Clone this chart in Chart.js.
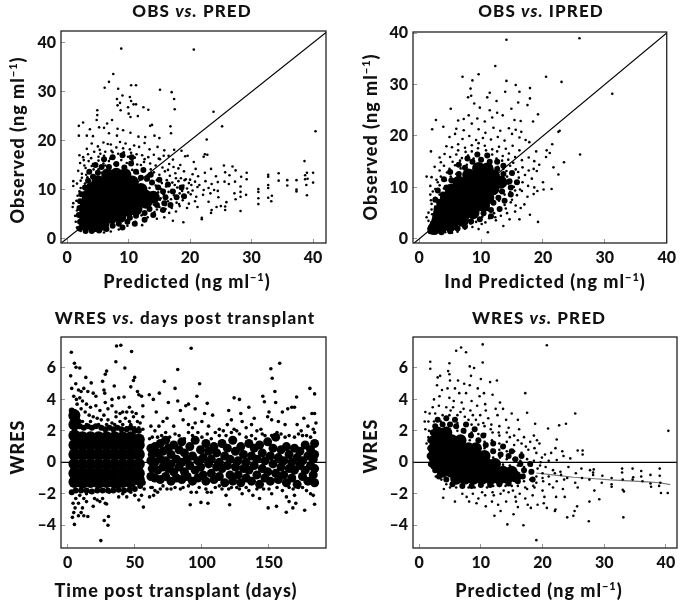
<!DOCTYPE html>
<html>
<head>
<meta charset="utf-8">
<title>Diagnostic plots</title>
<script src="https://cdn.jsdelivr.net/npm/chart.js@4"></script>
<style>
  html, body { margin: 0; background: #fff; }
  #page { position: relative; width: 685px; height: 601px; overflow: hidden; font-family: Lato, "Open Sans", sans-serif; font-weight: 900; color: #111; }
  canvas { position: absolute; }
  .label { position: absolute; white-space: nowrap; transform: translate(-50%, -50%); font-size: 18px; letter-spacing: 1px; }
  .title { font-size: 17px; letter-spacing: 1.1px; }
  .rot { transform: translate(-50%, -50%) rotate(-90deg); }
  sup { font-size: 11px; line-height: 0; }
</style>
</head>
<body>
<div id="page">
  <canvas id="c1" style="left:0;top:0"></canvas>
  <canvas id="c2" style="left:342px;top:0"></canvas>
  <canvas id="c3" style="left:0;top:300px"></canvas>
  <canvas id="c4" style="left:342px;top:300px"></canvas>

  <div class="label title" style="left:192px;top:10px">OBS <i>vs.</i> PRED</div>
  <div class="label title" style="left:541px;top:10px">OBS <i>vs.</i> IPRED</div>
  <div class="label title" style="left:185px;top:317px">WRES <i>vs.</i> days post transplant</div>
  <div class="label title" style="left:539px;top:317px">WRES <i>vs.</i> PRED</div>

  <div class="label" style="left:187px;top:281px">Predicted (ng ml<sup>&minus;1</sup>)</div>
  <div class="label" style="left:545px;top:281px">Ind Predicted (ng ml<sup>&minus;1</sup>)</div>
  <div class="label" style="left:176px;top:590px">Time post transplant (days)</div>
  <div class="label" style="left:539px;top:590px">Predicted (ng ml<sup>&minus;1</sup>)</div>

  <div class="label rot" style="left:17px;top:140px">Observed (ng ml<sup>&minus;1</sup>)</div>
  <div class="label rot" style="left:28px;top:137px;margin-left:342px">Observed (ng ml<sup>&minus;1</sup>)</div>
  <div class="label rot" style="left:17px;top:447px">WRES</div>
  <div class="label rot" style="left:370px;top:446px">WRES</div>
</div>

<script>
const concTicks = [0, 10, 20, 30, 40];
const timeTicks = [0, 50, 100, 150];
const wresTicks = [-4, -2, 0, 2, 4, 6];

// reference lines
const unityLine1 = [[-1, -1], [42.4, 42.4]];
const unityLine2 = [[-1, -1], [40.2, 40.2]];
const zeroLineTime = [[-5, 0], [193, 0]];
const zeroLinePred = [[-1, 0], [42, 0]];
const wresTrend = [[19, -0.68], [22, -0.82], [25, -0.95], [28, -1.03], [31, -1.12], [34, -1.18], [37, -1.25], [39, -1.3], [40.7, -1.42]];

// OBS vs PRED : solid middle of the cloud
const obsPredCore = [
  [3, 2.8],[4.4, 2.6],[5.8, 2.9],[3, 4.2],[4.4, 4.2],[5.8, 4.2],[7.2, 4.3],[8.6, 4.5],
  [3, 5.7],[4.4, 5.7],[5.8, 5.7],[7.2, 5.7],[8.6, 5.7],[10, 5.8],[11.2, 6],
  [3.1, 7.2],[4.4, 7.2],[5.8, 7.2],[7.2, 7.2],[8.6, 7.2],[10, 7.2],[11.4, 7.2],[12.8, 7.4],
  [3.4, 8.7],[4.6, 8.7],[5.8, 8.7],[7.2, 8.7],[8.6, 8.7],[10, 8.7],[11.4, 8.7],[12.8, 8.6],[14, 8.4],
  [4, 10.2],[5.2, 10.2],[6.6, 10.2],[8, 10.2],[9.4, 10.2],[10.8, 10.2],[12, 10],
  [5, 11.6],[6.4, 11.7],[7.8, 11.7],[9.2, 11.7],[10.6, 11.5],
  [6.6, 13],[8, 13.1],[9.4, 13]
];
// edge of the cloud, still crowded but not solid
const obsPredEdge = [
  [2, 2],[2.1, 3.4],[1.9, 4.8],[2, 6.2],[2.1, 7.6],[2.3, 9],[2.9, 10.4],[3.4, 11.8],[4.2, 12.6],[5, 13.4],
  [5.6, 14.6],[6.8, 14.6],[8, 15.2],[9.3, 14.5],[10.4, 15.3],[11.2, 13.6],[12, 12.4],[13, 12.2],[13.8, 11.4],[14.8, 10.4],
  [15.6, 9.6],[16, 8.4],[15.8, 7.2],[14.6, 6.8],[13.4, 6],[12.6, 5.2],[11.2, 4.6],[10.2, 4.2],[9.8, 3.4],[8.4, 3],
  [7.4, 2.6],[6.4, 1.9],[5.2, 1.6],[4, 1.5],[3, 1.5],[3.6, 13.6],[4.6, 15],[6, 16.2],[7.4, 16.6],[9, 17],
  [10.5, 16.6],[12.4, 14],[13.6, 13],[15, 12],[16.4, 11],[17.2, 9.6],[17.8, 8.4],[16.8, 6.8],[15.6, 5.8],[14, 4.8],
  [12.6, 3.8],[11, 3],[9, 2.2],[18.6, 10.4],[19, 8.6]
];
// OBS vs PRED : scattered readings
const obsPredDots = [
  [8.8, 38.8],[20.6, 38.6],[7.5, 33.6],[6.8, 32],[6.1, 30.8],[10.4, 31.3],[11.2, 31.3],[15.1, 30.4],[17, 29.9],[17.4, 28.5],
  [17.5, 26.4],[8.3, 30.6],[9, 29.2],[10.2, 28.9],[8.1, 28.5],[8.6, 27.7],[8.2, 27.2],[8.7, 26.2],[10.4, 28.1],[10.8, 27.4],
  [11.2, 27.4],[9.9, 26.8],[10, 25.5],[11.5, 25],[10.3, 24.8],[12.4, 26.8],[13.2, 26.3],[23.8, 25.9],[25.2, 22.9],[40.4, 21.9],
  [22.7, 20.2],[4.9, 26.2],[4.9, 25.2],[4.8, 24.2],[7.3, 24.2],[2.6, 23.7],[1.9, 23],[1.9, 21],[3.7, 22.3],[6.5, 23.5],
  [16.8, 22.9],[16.9, 21.5],[13.8, 23.2],[13.5, 23],[6, 22.6],[5.2, 22.7],[8.2, 22.4],[9.1, 22.1],[3.2, 21],[4.2, 20.9],
  [6.8, 21.5],[8.1, 21],[10.3, 21.6],[11.6, 20.8],[12.7, 20.7],[14.2, 21],[15, 20.5],[2, 17],[2.6, 16.6],[3.2, 18.3],
  [4, 19.4],[5, 18.8],[5.9, 19.6],[6.6, 19.3],[7.1, 19.2],[8.6, 19.7],[9.5, 19.4],[10.9, 19],[11.7, 18.7],[12.6, 19.5],
  [13.4, 18.2],[14.7, 18.7],[15.8, 18],[17.4, 18.1],[18.6, 17.9],[19.2, 16.8],[19.6, 16.9],[3.4, 17.2],[4.4, 17.7],[5.4, 17.3],
  [6.2, 17.7],[7.4, 17.6],[8.3, 17.3],[9.2, 17.6],[10.4, 17.5],[11.3, 17.2],[12.2, 17],[13.2, 16.6],[14.1, 17.1],[15.1, 16.2],
  [16.5, 16.9],[22.4, 17.2],[22.8, 17.1],[22.2, 16.7],[2.1, 15.4],[2.8, 14.9],[3.5, 15.8],[4.2, 15.2],[5.1, 15.9],[5.9, 15.3],
  [6.8, 15.8],[7.7, 15.2],[8.8, 16],[9.7, 15.4],[10.6, 15.8],[11.4, 15.1],[12.5, 15.6],[13.5, 15.3],[14.4, 14.9],[15.5, 14.5],
  [16.6, 15.2],[17.3, 14.6],[18.4, 15],[20.6, 15.6],[20.9, 14.2],[25.5, 14.9],[26.9, 14.7],[1.8, 13.8],[2.4, 13.2],[3.1, 13],
  [3.8, 13.6],[4.4, 12.8],[5.1, 14.1],[5.6, 13.4],[10.6, 14],[11.5, 13.3],[12.4, 14.1],[13.2, 12.9],[14.1, 13.5],[15, 13],
  [15.9, 13.7],[16.7, 12.8],[17.6, 13.3],[18.5, 12.3],[19.3, 12.1],[20.4, 13.1],[21.3, 12.7],[22.4, 13.4],[23.4, 14.2],[24.2, 12.7],
  [25.7, 13.5],[26.4, 12.9],[27.4, 13.9],[28.3, 12.6],[1, 11.7],[1, 10.7],[1.6, 11.2],[2.2, 11.8],[2.9, 11.2],[3.5, 11.8],
  [12.8, 11.9],[13.8, 11.6],[14.6, 11.9],[15.4, 11.3],[16.2, 11.9],[17.1, 11.4],[18.1, 11.7],[19.1, 11.9],[19.8, 11.3],[20.8, 11.6],
  [21.5, 10.9],[22.5, 11.7],[23.5, 11.1],[24.5, 11.5],[25.6, 11.6],[26.3, 11.1],[27.3, 11.6],[13.4, 10.3],[14.4, 10.8],[15.3, 10.1],
  [16.1, 10.6],[17, 9.9],[17.9, 10.4],[18.7, 9.7],[19.5, 10.2],[20.4, 9.8],[21.2, 10.5],[22.2, 9.9],[23, 10.3],[23.9, 9.9],
  [24.5, 9.7],[14.8, 9.4],[15.7, 9],[16.5, 9.5],[17.4, 8.8],[18.3, 9.2],[19.2, 8.4],[20.1, 9],[21, 8.5],[22.1, 8.9],
  [23.3, 9.2],[24.6, 8.4],[15.1, 7.9],[16, 7.5],[16.9, 8],[17.8, 7.3],[18.8, 7.8],[19.8, 7.1],[20.8, 7.6],[23, 7.5],
  [14.1, 6.9],[15, 6.4],[16, 6.8],[17, 6.2],[18.3, 6.6],[19.5, 6.2],[21.2, 6.4],[24.3, 6.4],[13.2, 5.8],[14.2, 5.4],
  [15.3, 5.7],[16.6, 5.2],[17.7, 5.5],[12.1, 4.7],[13.1, 4.3],[14.6, 4],[15.8, 4.3],[17.2, 3.6],[18.9, 3.3],[11.1, 3.4],
  [12.2, 2.7],[9.8, 2.6],[8.4, 1.8],[7.1, 1.4],[6, 1.2],[5, 1.4],[2.2, 1.5],[2.6, 2],[1.6, 2.2],[1.4, 3.4],
  [1.3, 4.6],[0.9, 6.4],[1, 7.2],[1.6, 5.7],[1.5, 7.7],[1.7, 8.7],[2, 9.6],[2.2, 10.3],[21.9, 3.9],[21.9, 4.2],
  [23.4, 5.2],[23.5, 5.8],[25.7, 5.8],[25.7, 6.5],[25.9, 7.4],[25, 6.6],[28.2, 5.6],[27.4, 8],[28.2, 8.5],[27.2, 9.2],
  [28.2, 9.5],[28.2, 10.6],[29.1, 8.9],[29.2, 12.1],[29.2, 13.4],[31.1, 7],[31.1, 8.2],[31.1, 9.5],[31.1, 10.1],[32.7, 8.3],
  [32.7, 10.3],[32.7, 10.9],[32.7, 12.6],[32.7, 13],[33.2, 7.6],[33.3, 8.7],[34.4, 11.8],[34.4, 13.3],[35.8, 10.8],[35.8, 11.9],
  [37.3, 9.6],[37.3, 10],[37.3, 11.9],[38.6, 15.8],[38.7, 12.9],[38.7, 12.1],[39.1, 12.2],[39, 8.8],[38.9, 10.9],[39, 13.4],
  [40, 13.4],[40, 11.4],[3, 14.4],[4.3, 14.1],[6.2, 14.9],[7.2, 17.9],[9.1, 18.4],[5.3, 18.1],[8, 18.6],[10.2, 18.2],
  [11, 16.5],[12.6, 16.2],[13.6, 14.1],[14.9, 16.3],[15.7, 16.9],[17.2, 16.1],[18.1, 14.3],[19, 13.7],[20, 12],[17.7, 12.3],
  [16.4, 14],[18.9, 10.8],[20.2, 10.9],[19.7, 9.4],[17.5, 10.9],[18.2, 7],[16.4, 7.6],[15.2, 8.2],[14.6, 5.9],[16, 6],
  [2.4, 12.4],[3.3, 12.5],[4, 14.8],[7, 16.3],[9.9, 16.7],[12, 15],[5.1, 16.7],[3.9, 16.4],[2.7, 16],[6, 16.9]
];

// OBS vs IPRED
const obsIpredCore = [
  [2.4, 2],[3.6, 2.4],[5, 2.6],[3, 3.5],[4.3, 3.6],[5.7, 3.6],[7, 3.6],
  [3.3, 5],[4.6, 5],[6, 5],[7.4, 5],[8.7, 5.1],[3.8, 6.5],[5.1, 6.5],[6.5, 6.5],[7.9, 6.5],[9.3, 6.5],[10.4, 6.5],
  [4.4, 8],[5.7, 8],[7.1, 8],[8.5, 8],[9.9, 8],[11.1, 8],[5.2, 9.5],[6.5, 9.5],[7.9, 9.5],[9.3, 9.5],[10.7, 9.5],[11.9, 9.7],
  [6.4, 11],[7.8, 11],[9.2, 11],[10.6, 11],[12, 11],[13.2, 11],[8, 12.4],[9.4, 12.4],[10.8, 12.4],[12, 12.2],[9.6, 13.7],[11, 13.6]
];
const obsIpredEdge = [
  [1.8, 1.5],[2.2, 3],[2.6, 4.4],[2.8, 5.8],[3.2, 7.2],[3.8, 8.6],[4.4, 10],[5.2, 11.4],[6.4, 12.6],[7.4, 13.8],
  [8.6, 15],[10, 15.4],[11.4, 15],[12.6, 13.6],[13.6, 12.6],[14.6, 11.2],[14.8, 10],[13.4, 9.2],[12.8, 8],[12, 7],
  [11.6, 5.6],[10.4, 5],[9.8, 3.8],[8.4, 3.4],[7.4, 2.4],[6.2, 2],[5, 1.5],[3.6, 1.3],[4, 11.6],[5, 13],
  [6.4, 14.4],[7.8, 15.6],[9.4, 16.4],[11, 16.2],[12.6, 15],[13.6, 14.2],[15, 12.8],[15.8, 11],[14.8, 8.6],[13.8, 7.4],
  [13, 5.8],[11.6, 4.4],[3, 9.4],[2.6, 7.6]
];
const obsIpredDots = [
  [14.1, 38.7],[25.9, 39],[12.3, 33.6],[7, 31.5],[9.6, 32],[8.6, 30.8],[14.1, 30.7],[20.5, 31.5],[23, 30.5],[31.2, 28.2],
  [15.6, 29.9],[16.2, 28.6],[17.9, 29.3],[17.9, 27.3],[17.5, 26],[16, 26.5],[14.9, 25.3],[8.3, 29.2],[8.4, 27.8],[7.9, 27.5],
  [11, 27.5],[11.4, 28.4],[12.5, 26.8],[13.9, 28.6],[5.1, 25.3],[2.7, 23.1],[2.1, 21.3],[3.9, 21.8],[1.9, 17],[19.2, 24.2],
  [18.4, 22.8],[22.7, 21],[22.5, 20.8],[26, 16.4],[21.5, 18.4],[20.6, 17.2],[20.5, 15.9],[21.1, 16.7],[23.4, 14.9],[21.7, 13.9],
  [22.5, 12.5],[21.4, 9.7],[20.1, 9.6],[20, 11],[19.2, 3.3],[17.9, 4.7],[16.2, 3.8],[13.6, 2.5],[11.1, 1.3],[10.1, 2.9],
  [8.9, 26.3],[9.8, 25.5],[11.4, 25],[12.6, 24.5],[6.3, 23],[7.2, 23.3],[8, 24],[9.4, 23.4],[10.6, 22.8],[11.8, 23.6],
  [13.5, 24],[15.4, 23.1],[16.4, 22.9],[6, 21.4],[7.2, 21.1],[8.5, 22.4],[9.6, 21.3],[10.7, 20.6],[12, 21.6],[13.1, 21],
  [14.5, 21.5],[15.6, 21.2],[16.5, 20.8],[4.9, 19.8],[5.8, 20.4],[7, 19.4],[8.1, 20],[9.2, 19.2],[10.3, 19.6],[11.6, 19.3],
  [12.7, 19.8],[13.8, 19.1],[15, 20.4],[16.2, 19.7],[17.2, 19.2],[4.4, 18],[5.3, 17.8],[6.3, 18.4],[7.4, 17.7],[8.5, 18.2],
  [9.5, 17.6],[10.6, 18.1],[11.8, 17.4],[12.9, 17.9],[14, 17.5],[15.1, 18.1],[16.2, 17.2],[17.8, 18.8],[18.9, 17],[3.3, 15.8],
  [4.1, 16.5],[5, 15.9],[6, 16.4],[6.9, 15.7],[7.9, 16.2],[8.8, 15.6],[12.5, 15.6],[13.5, 16.1],[14.4, 15.4],[15.5, 15.9],
  [16.6, 15.3],[17.7, 15.8],[18.6, 15.1],[19.4, 14.4],[2.5, 14],[3.3, 13.3],[4, 14.2],[4.9, 13.6],[5.8, 14.3],[6.7, 13.7],
  [7.7, 14.4],[12.7, 14],[13.6, 13.6],[14.7, 14.2],[15.6, 13.5],[16.7, 13.9],[17.7, 13.3],[18.5, 13.6],[19, 13.2],[1.2, 12.1],
  [2, 12],[2.8, 11.5],[3.5, 12.1],[4.3, 11.4],[5.1, 12.1],[6, 12.6],[14.2, 12.1],[15.1, 12.5],[16.1, 11.9],[17.1, 12.4],
  [18.2, 11.7],[1.8, 10.3],[2.6, 9.7],[3.3, 10.4],[4, 9.8],[14.4, 10.7],[15.3, 10.1],[16.3, 9.6],[17.6, 10.3],[18.6, 10],
  [19.1, 9.3],[1.8, 8.6],[2.6, 8],[3.3, 8.6],[13, 9.2],[13.8, 8.6],[14.7, 9.1],[15.8, 8.5],[16.6, 9.3],[17.5, 8.2],
  [18.5, 8.7],[2, 6.8],[2.6, 6.3],[12, 6.9],[12.9, 7.4],[13.8, 6.6],[14.8, 7.1],[15.6, 6.5],[17, 6.7],[1.5, 5.1],
  [2.1, 4.8],[1.2, 4.2],[1.5, 3.5],[11.1, 5.6],[12.1, 5],[13, 5.5],[14.2, 5],[15.5, 5.3],[16.4, 6],[10.2, 4.3],
  [11.3, 4],[12.4, 3.6],[13.2, 4.5],[14.6, 3.8],[8.3, 3],[9.2, 3.3],[7.4, 2],[6.2, 1.4],[5.3, 1.2],[4.2, 1.3],
  [2, 1.2],[1.5, 2],[8.6, 2.3],[9.6, 1.9],[5.4, 15],[6.6, 15.2],[7.5, 16.9],[8.5, 17],[9.6, 18.6],[10.8, 17.2],
  [11.8, 16.4],[12.6, 17],[13.4, 15.2],[14.5, 16.6],[15.2, 14.8],[14.1, 13.2],[16, 13],[16.7, 11],[15.5, 9.4],[15, 7.6],
  [14, 5.9],[12.3, 4.2],[10.7, 3.2],[3, 11],[2.2, 9.2],[1.9, 7.5],[2, 5.7],[4.5, 12.9],[3.5, 14.9],[6.3, 17.2]
];

// WRES vs time
const wresTimeCore = [
  [5, -1.25],[11, -1.3],[17, -1.25],[23, -1.3],[29, -1.25],[35, -1.3],[41, -1.25],[47, -1.25],[53, -1.1],
  [5, -0.7],[11, -0.7],[17, -0.7],[23, -0.7],[29, -0.7],[35, -0.7],[41, -0.7],[47, -0.7],[53, -0.7],
  [5, -0.1],[11, -0.1],[17, -0.1],[23, -0.1],[29, -0.1],[35, -0.1],[41, -0.1],[47, -0.1],[53, -0.1],
  [5, 0.5],[11, 0.5],[17, 0.5],[23, 0.5],[29, 0.5],[35, 0.5],[41, 0.5],[47, 0.5],[53, 0.5],
  [5, 1.1],[11, 1.1],[17, 1.1],[23, 1.1],[29, 1.1],[35, 1.1],[41, 1.1],[47, 1.1],[53, 1.1],
  [5, 1.7],[11, 1.6],[17, 1.6],[23, 1.6],[29, 1.6],[35, 1.6],[41, 1.6],[47, 1.6],[53, 1.45],
  [5, 2.4],[5, 3]
];
const wresTimeBand = [
  [62, -0.9],[62, 0.1],[62, 0.9],[63, -0.4],[63, 0.5],[65, -1],[65, 0],[65, 1],[67, -0.5],[67, 0.6],
  [69, -1.1],[69, 0.2],[69, 1.2],[71, -0.3],[71, 0.7],[73, -0.9],[73, 0.1],[73, 1.4],[75, -0.4],[75, 0.9],
  [77, -1.2],[77, -0.1],[77, 0.5],[79, -0.6],[79, 1.1],[81, 0.2],[81, -1],[83, -0.3],[83, 0.8],[85, -1.1],
  [85, 0],[85, 1.3],[87, -0.6],[87, 0.6],[89, 0.2],[89, -0.9],[91, -0.2],[91, 1],[93, -1.2],[93, 0.4],
  [95, -0.5],[95, 1.4],[97, 0.1],[97, -1],[99, -0.3],[99, 0.8],[101, -0.8],[101, 0.3],[103, 1.2],[103, -1.2],
  [105, -0.1],[105, 0.7],[107, -0.7],[107, 0.2],[109, 1],[109, -1.1],[111, -0.3],[111, 0.6],[113, -0.9],[113, 0],
  [115, 1.2],[115, -0.4],[117, 0.4],[117, -1.3],[119, -0.2],[119, 0.9],[121, -0.8],[121, 0.2],[123, 1.4],[123, -1.2],
  [125, -0.3],[125, 0.7],[127, -0.8],[127, 0.1],[129, 1],[129, -1.3],[131, -0.4],[131, 0.5],[133, -1],[133, 0],
  [135, 1.2],[135, -0.5],[137, 0.4],[137, -1.2],[139, -0.2],[139, 0.9],[141, -0.8],[141, 0.2],[143, 1.1],[143, -1.4],
  [145, -0.4],[145, 0.6],[147, -1],[147, 0.1],[149, 1.3],[149, -0.6],[151, 0.4],[151, -1.2],[153, -0.1],[153, 0.9],
  [155, -0.7],[155, 1.6],[157, 0.3],[157, -1.1],[159, -0.3],[159, 0.8],[161, -0.8],[161, 0.1],[163, 1],[163, -1.3],
  [165, -0.4],[165, 0.5],[167, -1],[167, 0],[169, 0.9],[169, -0.5],[171, 0.3],[171, -1.4],[173, -0.2],[173, 0.7],
  [175, -0.9],[175, 0.1],[177, 1.1],[177, -0.5],[179, 0.4],[179, -1.2],[181, -0.2],[181, 0.8],[183, -0.8],[183, 0.2],
  [184, 1.2],[184, -0.4],[184, -1.3],[184, 0.5]
];
const wresTimeEdge = [
  [3, 2.9],[3, 3.3],[5, 3.2],[7, 2.9],[4, 2.5],[9, 2.3],[8, 2.6],[12, 2.2],[15, 2.3],[18, 2.2],
  [21, 2.3],[25, 2.2],[28, 2.1],[31, 2.2],[34, 2.1],[37, 2.2],[40, 2.1],[44, 2.1],[47, 2.2],[50, 2],
  [53, 2],[3, -1.9],[6, -1.8],[10, -1.8],[14, -1.8],[18, -1.85],[22, -1.8],[26, -1.8],[30, -1.8],[34, -1.8],
  [38, -1.75],[42, -1.8],[46, -1.75],[50, -1.7],[54, -1.5],[56, -1.3]
];
const wresTimeDots = [
  [2.7, 7],[36.4, 7.4],[39.6, 7.45],[47.6, 7.05],[92, 7.25],[5, 6.3],[6.2, 6.05],[9, 6],[35.9, 6.4],[42.6, 6],
  [82, 5.9],[151.4, 5.95],[158, 6.3],[152.4, 5.35],[2.2, 5.5],[13.5, 5.4],[29, 5.8],[28, 5.6],[26, 5.15],[17.5, 5.05],
  [49.9, 5.4],[49, 5.2],[72, 5.15],[98.3, 5],[34.7, 4.85],[80, 4.7],[180.5, 4.7],[184, 4.35],[154.4, 4.5],[96.3, 4.2],
  [68.3, 4.4],[60.8, 4.3],[63.8, 4],[170.6, 4.15],[124, 4.1],[128, 4],[145.4, 4.2],[146.6, 3.85],[104, 3.75],[6, 5],
  [8, 4.6],[10, 4.5],[12, 4.7],[15, 4.5],[19, 4.4],[21, 4.2],[27, 4.6],[27.6, 4.4],[33, 4],[38, 4.1],
  [42, 4.15],[47, 4.8],[52, 4.5],[53, 4.3],[55, 4.2],[3, 4.7],[4.5, 4.2],[6.5, 4],[9, 4.1],[11, 3.9],
  [14, 3.7],[17, 3.5],[21, 3.6],[24, 3.3],[28, 3.8],[30, 3.4],[33, 3.6],[36, 3.2],[39, 3.1],[41, 3.2],
  [44, 3.2],[46, 3.5],[48, 3.2],[51, 3.1],[56, 3.6],[7, 3.7],[10, 3.4],[13, 3.2],[16, 3],[19, 2.9],
  [22, 2.8],[25, 2.7],[27, 3],[30, 2.7],[33, 2.5],[36, 2.9],[39, 2.6],[43, 2.8],[46, 2.6],[49, 2.9],
  [52, 2.6],[54, 2.5],[56, 2.9],[8, 2.5],[11, 2.6],[14, 2.4],[17, 2.6],[20, 2.3],[23, 2.4],[26, 2.2],
  [29, 2.4],[32, 2.2],[35, 2.4],[38, 2.2],[41, 2.4],[44, 2.2],[47, 2.4],[50, 2.2],[53, 2.2],[56, 2.1],
  [66, 3.2],[62, 2.3],[65, 2],[68, 2.3],[71, 2.6],[74, 2.8],[75, 3.8],[79, 2.3],[82, 3.9],[84, 3.3],
  [86, 2.7],[88, 3.6],[90, 3.7],[90, 2.4],[93, 2.2],[95, 2.5],[95, 3.4],[97, 1.9],[100, 2.6],[102, 3.1],
  [105, 2.3],[108, 3],[110, 1.9],[113, 2.1],[116, 2],[119, 2.4],[120, 3.3],[122, 2.7],[124, 2.1],[126, 2],
  [129, 3.1],[130, 2.6],[133, 2.2],[135, 3.5],[137, 2.4],[139, 2.8],[141, 2],[144, 2.1],[149, 2.9],[150, 3.2],
  [152, 2.7],[155, 3.8],[157, 2.6],[160, 3.2],[162, 2.4],[164, 3.4],[167, 3.5],[169, 3.5],[171, 2.4],[174, 2],
  [176, 2.8],[179, 2.3],[182, 3.1],[184, 3.1],[185, 2.5],[183, 2.1],[178, 1.7],[172, 1.8],[165, 1.7],[159, 1.8],
  [147, 1.7],[137, 1.7],[128, 1.8],[113, 1.7],[104, 1.8],[90, 1.9],[80, 1.8],[70, 1.7],[63, 1.6],[156, 1.9],
  [3, -1.9],[6, -2.3],[8, -2.6],[4, -2.6],[9, -2.1],[12, -2.3],[14, -2],[17, -1.9],[20, -2.3],[22, -2.4],
  [24, -2.5],[26, -2.3],[28, -2.6],[31, -1.9],[35, -1.8],[38, -2.2],[41, -2],[44, -2.2],[47, -1.9],[50, -2.1],
  [53, -2.4],[55, -2.1],[56.4, -2.85],[57, -1.7],[5, -3.95],[27.2, -3.7],[30, -4],[30.4, -3.45],[24.7, -4.98],[15, -3.45],
  [10, -3.2],[8, -3.4],[3.5, -3.5],[4.5, -3.2],[11, -2.9],[14, -2.5],[19, -2.8],[29, -2.65],[5.5, -2.9],[12, -3.4],
  [63, -1.6],[61, -2.2],[65, -1.8],[67, -1.9],[64, -2.1],[71, -1.5],[74, -1.7],[80, -1.6],[86, -1.6],[91.3, -2.7],
  [92, -1.9],[96, -1.9],[99.3, -2.55],[104.5, -2.6],[104, -1.9],[107, -1.9],[110, -1.6],[115, -1.7],[118, -2.1],[120.7, -2.7],
  [122, -1.6],[128, -1.7],[130, -2],[135, -1.8],[138, -2.1],[143, -2.3],[146, -1.7],[149.4, -2.9],[155.6, -2.8],[152, -2],
  [160, -1.8],[162.9, -3.18],[163, -2.2],[165, -2.5],[167.8, -2.9],[170, -2.6],[169, -2.1],[172, -1.6],[176.6, -3.05],[178, -1.8],
  [181, -2],[183, -2.1],[184, -2.67],[165, -1.6],[61, 1.5],[67, 1.6],[73, 1.9],[76, 1.6],[83, 1.7],[87, 1.5],
  [93, 1.7],[100, 1.6],[107, 1.5],[118, 1.7],[122, 1.9],[133, 1.6],[140, 1.5],[145, 1.8],[152, 1.7],[162, 1.6],
  [169, 1.6],[175, 1.7],[181, 1.6],[184, 1.9],[62, -1.6],[69, -1.7],[77, -1.7],[84, -1.7],[90, -1.5],[98, -1.6],
  [103, -1.7],[113, -1.5],[120, -1.7],[126, -1.6],[133, -1.6],[141, -1.7],[150, -1.7],[156, -1.6],[168, -1.7],[175, -1.6]
];

// WRES vs PRED
const wresPredCore = [
  [3, 1.9],[4.4, 1.9],[2.5, 1.4],[3.9, 1.4],[5.3, 1.4],[6.7, 1.4],[2.4, 0.9],[3.8, 0.9],[5.2, 0.9],[6.6, 0.9],[8, 0.9],[9.2, 0.9],
  [2.3, 0.4],[3.7, 0.4],[5.1, 0.4],[6.5, 0.4],[7.9, 0.4],[9.3, 0.4],[10.6, 0.4],[2.6, -0.1],[4, -0.1],[5.4, -0.1],[6.8, -0.1],[8.2, -0.1],[9.6, -0.1],[11, -0.1],[12.3, -0.1],
  [3.8, -0.6],[5.2, -0.6],[6.6, -0.6],[8, -0.6],[9.4, -0.6],[10.8, -0.6],[12.2, -0.6],[13.6, -0.6],[15, -0.6],
  [6, -1.05],[7.4, -1.05],[8.8, -1.05],[10.2, -1.05],[11.6, -1.05],[13, -1.05],[14.3, -1],[15.6, -0.9]
];
const wresPredEdge = [
  [1.8, 1.4],[1.8, 0.9],[1.7, 0.4],[1.9, -0.1],[2.6, -0.5],[3.2, -0.9],[4.4, -1.1],[5.4, -1.4],[7, -1.5],[8.5, -1.5],
  [10, -1.45],[11.5, -1.45],[13, -1.4],[14.5, -1.35],[16, -1.2],[16.8, -0.9],[17, -0.5],[16.4, -0.1],[15.6, 0.2],[14.5, 0.4],
  [13.2, 0.5],[12, 0.7],[10.8, 1.1],[9.6, 1.4],[8.4, 1.7],[7.2, 2],[6, 2.3],[5, 2.4],[3.8, 2.4],[2.6, 2.3],
  [2.2, 1.9],[3, 2.7],[4.4, 2.8],[5.8, 2.7],[7.6, 2.4],[9, 2.1],[10.4, 1.7],[12, 1.2],[13.6, 1],[15, 0.7],
  [16.6, 0.4],[18, -0.1],[18.2, -0.6],[18.4, -1.1]
];
const wresPredDots = [
  [10.3, 7.5],[20.7, 7.45],[6.8, 7.3],[6, 7.1],[7.6, 7],[10.3, 6.35],[1.8, 6.4],[1.8, 5.95],[4.9, 6.3],[8.2, 6.1],
  [8.9, 6],[8.4, 5.5],[4.7, 5.8],[4.9, 5.6],[10, 5.3],[11.5, 5.1],[12.6, 5.2],[17.2, 4.4],[25.3, 3.1],[40.4, 2],
  [17.5, 3.15],[20.9, 2.15],[22.7, 2.35],[23.8, 2.45],[18.8, 2.45],[22.3, 1.45],[25.7, 0.75],[26.5, 0.75],[26.5, 0.5],[19, -4.95],
  [16.9, -4],[14.3, -3.95],[33.1, -3.5],[27.5, -3.75],[24, -3.5],[25, -3.4],[25.2, -3.1],[25.6, -2.8],[27.6, -2.5],[29.2, -2.35],
  [22, -3.1],[3.9, -2.25],[5.8, -2.5],[3, 5.4],[3.4, 5.5],[5, 5.2],[6.3, 5.2],[7.3, 5],[8.2, 4.9],[9.5, 4.7],
  [2.9, 4.9],[3.7, 4.6],[4.6, 4.7],[5.8, 4.7],[6.5, 4.4],[7.6, 4.4],[9.8, 4.2],[10.5, 4.4],[11.9, 4.3],[3.3, 4.2],
  [4.9, 4.1],[2.4, 4],[5.6, 3.9],[6.9, 3.8],[8.5, 3.9],[10.7, 3.7],[13.1, 3.8],[2.2, 3.5],[3.2, 3.6],[4.4, 3.5],
  [5.5, 3.5],[7.2, 3.4],[8.3, 3.3],[9.4, 3.6],[10.8, 3.3],[12.4, 3.4],[13.6, 3.4],[15, 3.1],[1, 3.2],[1.7, 3.1],
  [2.6, 3.1],[3.8, 3],[4.9, 3],[6.2, 3],[7.4, 2.9],[8.7, 3],[9.9, 3],[11.2, 2.8],[12.7, 3],[14.1, 2.7],
  [16, 2.7],[0.9, 2.6],[1.5, 2.6],[2.4, 2.6],[3.5, 2.6],[5.2, 2.5],[6.2, 2.5],[7.4, 2.4],[8.5, 2.4],[9.6, 2.4],
  [10.6, 2.3],[11.7, 2.4],[13, 2.3],[14.5, 2.2],[16.2, 2.1],[1, 2.1],[1.6, 2],[1.5, 1.6],[6.2, 2],[7.4, 1.9],
  [8.5, 1.9],[9.6, 1.8],[10.7, 1.8],[11.9, 1.9],[13, 1.7],[14.2, 1.9],[15.4, 1.7],[17, 1.6],[18.6, 1.7],[19.1, 1.4],
  [1.2, 1.2],[1.6, 0.9],[8.2, 1.4],[9.4, 1.4],[10.6, 1.3],[11.8, 1.4],[13, 1.2],[14.2, 1.3],[15.4, 1.1],[16.6, 1.2],
  [18, 1.3],[19.5, 1.2],[10.6, 0.9],[11.8, 0.8],[13, 0.8],[14.2, 0.7],[15.4, 0.7],[16.6, 0.6],[17.7, 0.8],[19, 0.6],
  [20.4, 0.5],[21.4, 0.6],[22.1, 0.9],[23.2, 0.7],[23.4, 0.4],[12, 0.3],[13.1, 0.3],[14.2, 0.2],[15.3, 0.2],[16.4, 0.1],
  [17.5, 0.2],[18.6, 0.1],[19.7, 0],[21, 0.1],[22.3, 0.15],[24.5, 0.25],[13.6, -0.15],[14.7, -0.2],[16, -0.2],[17, -0.3],
  [18.2, -0.2],[19.2, -0.4],[20.5, -0.3],[21.7, -0.5],[22.9, -0.6],[24.2, -0.3],[17, -0.8],[18, -0.7],[19, -0.9],[20, -0.7],
  [21, -0.9],[22, -0.7],[23, -0.8],[24, -1],[25.4, -0.7],[26.3, -0.4],[27.7, -0.5],[28.2, -0.65],[28.2, -0.8],[28.3, -0.45],
  [17, -1.2],[18, -1.1],[19, -1.3],[20.1, -1.2],[21.1, -1.4],[22.3, -1.2],[23.5, -1.1],[25.3, -1.3],[26.4, -1],[27.6, -1.1],
  [2.7, -0.9],[3.6, -1.1],[4.4, -1.4],[4, -1.7],[5, -1.6],[6, -1.6],[7, -1.5],[8, -1.6],[9, -1.6],[10, -1.5],
  [11, -1.6],[12, -1.5],[13, -1.5],[14, -1.5],[15, -1.5],[16, -1.5],[17.5, -1.7],[18.7, -1.6],[20, -1.8],[21.7, -1.6],
  [23.3, -1.7],[25.7, -1.6],[7, -2],[7.7, -2.2],[8.7, -2],[9.6, -2.3],[10.7, -2.1],[12.1, -2.1],[13.2, -2],[14.5, -1.9],
  [15.6, -2.2],[16.3, -2],[17.2, -2.3],[18.4, -2.1],[20.3, -2.2],[22.2, -2.2],[23.6, -2.2],[8.1, -2.5],[9.3, -2.6],[10.8, -2.8],
  [11.8, -2.5],[12.8, -2.7],[14.1, -2.5],[15.7, -2.5],[16, -2.85],[17.6, -2.7],[18.1, -2.9],[19.2, -2.7],[20.2, -2.6],[20.7, -2.9],
  [12.2, -3.4],[13.2, -3.1],[15.3, -3.3],[22.1, -3],[31.2, -1],[31.2, -1.4],[31.2, -1.55],[32.9, -0.4],[32.9, -0.65],[33, -1.1],
  [33, -1.75],[33.2, -1.85],[34.6, -0.4],[34.7, -0.95],[34.6, -1.1],[36, -0.55],[36, -0.9],[36.2, -1.2],[37.5, -0.8],[37.5, -1.35],
  [37.6, -1.55],[39, -0.4],[39, -0.85],[39.1, -1.3],[39.2, -1.95],[40.3, -1.95],[38.9, -1.5],[29.7, -0.85],[29.6, -1.3],[28.4, -1.8],
  [5.1, 3.3],[6.7, 3.2],[8, 2.7],[9.2, 2.7],[10.4, 2.5],[11.6, 2.1],[12.9, 1.9],[14.7, 1.6],[16, 1.4],[17.3, 1],
  [18.7, 0.9],[19.9, 0.3],[19.6, -0.2],[20, -1],[18.5, -1.5],[17.2, -1.6],[15.2, -1.8],[13.7, -1.8],[11.9, -1.9],[10.2, -1.9]
];

// frame round the plot area, the axes only draw two of its sides
const framePlugin = {
  id: "frame",
  afterDraw(chart) {
    const { ctx, chartArea: a } = chart;
    ctx.save();
    ctx.strokeStyle = "#222";
    ctx.lineWidth = 1.3;
    ctx.strokeRect(a.left, a.top, a.right - a.left, a.bottom - a.top);
    ctx.restore();
  }
};

function cloud(data, radius) {
  return { data, type: "scatter", pointRadius: radius, pointBackgroundColor: "#000", pointBorderWidth: 0, showLine: false };
}

function line(data, color, width) {
  return { data, type: "line", borderColor: color, borderWidth: width, pointRadius: 0, tension: 0, fill: false };
}

function axis(min, max, tickValues, fit) {
  return {
    type: "linear",
    min,
    max,
    afterBuildTicks: scale => { scale.ticks = tickValues.map(value => ({ value })); },
    afterFit: fit,
    border: { display: false },
    grid: { drawOnChartArea: false, tickLength: -4, color: "#999", tickWidth: 1 },
    ticks: {
      color: "#111",
      padding: 9,
      maxRotation: 0,
      autoSkip: false,
      font: { family: "Lato", weight: "900", size: 16 },
      callback: value => String(value).replace("-", "–")
    }
  };
}

function panel(id, width, height, box, xRange, xTicks, yRange, yTicks, datasets) {
  const canvas = document.getElementById(id);
  canvas.style.width = width + "px";
  canvas.style.height = height + "px";
  canvas.width = width;
  canvas.height = height;
  return new Chart(canvas, {
    data: { datasets },
    plugins: [framePlugin],
    options: {
      responsive: false,
      animation: false,
      devicePixelRatio: 1,
      layout: { padding: { top: box.top, right: box.right, left: 0, bottom: 0 } },
      plugins: { legend: { display: false }, tooltip: { enabled: false } },
      scales: {
        x: axis(xRange[0], xRange[1], xTicks, s => { s.height = box.bottom; }),
        y: axis(yRange[0], yRange[1], yTicks, s => { s.width = box.left; })
      }
    }
  });
}

window.onload = function () {
  panel("c1", 342, 300, { left: 61, top: 31, right: 16, bottom: 57 }, [-1, 42.1], concTicks, [-0.95, 42.4], concTicks, [
    line(unityLine1, "#000", 1.2), cloud(obsPredCore, 6.5), cloud(obsPredEdge, 3), cloud(obsPredDots, 1.3)
  ]);
  panel("c2", 343, 300, { left: 71, top: 32, right: 8, bottom: 57 }, [-1, 40], concTicks, [-0.8, 40.2], concTicks, [
    line(unityLine2, "#000", 1.2), cloud(obsIpredCore, 6.5), cloud(obsIpredEdge, 3), cloud(obsIpredDots, 1.3)
  ]);
  panel("c3", 342, 301, { left: 61, top: 37, right: 16, bottom: 53 }, [-5, 192.5], timeTicks, [-5.45, 7.97], wresTicks, [
    line(zeroLineTime, "#000", 1.2), cloud(wresTimeCore, 6), cloud(wresTimeBand, 4.5), cloud(wresTimeEdge, 3), cloud(wresTimeDots, 1.8)
  ]);
  panel("c4", 343, 301, { left: 71, top: 37, right: 8, bottom: 53 }, [-1, 41.8], concTicks, [-5.45, 7.97], wresTicks, [
    cloud(wresPredCore, 6), cloud(wresPredEdge, 3), cloud(wresPredDots, 1.3), line(zeroLinePred, "#000", 1.2), line(wresTrend, "#777", 1.2)
  ]);
};
</script>
</body>
</html>
